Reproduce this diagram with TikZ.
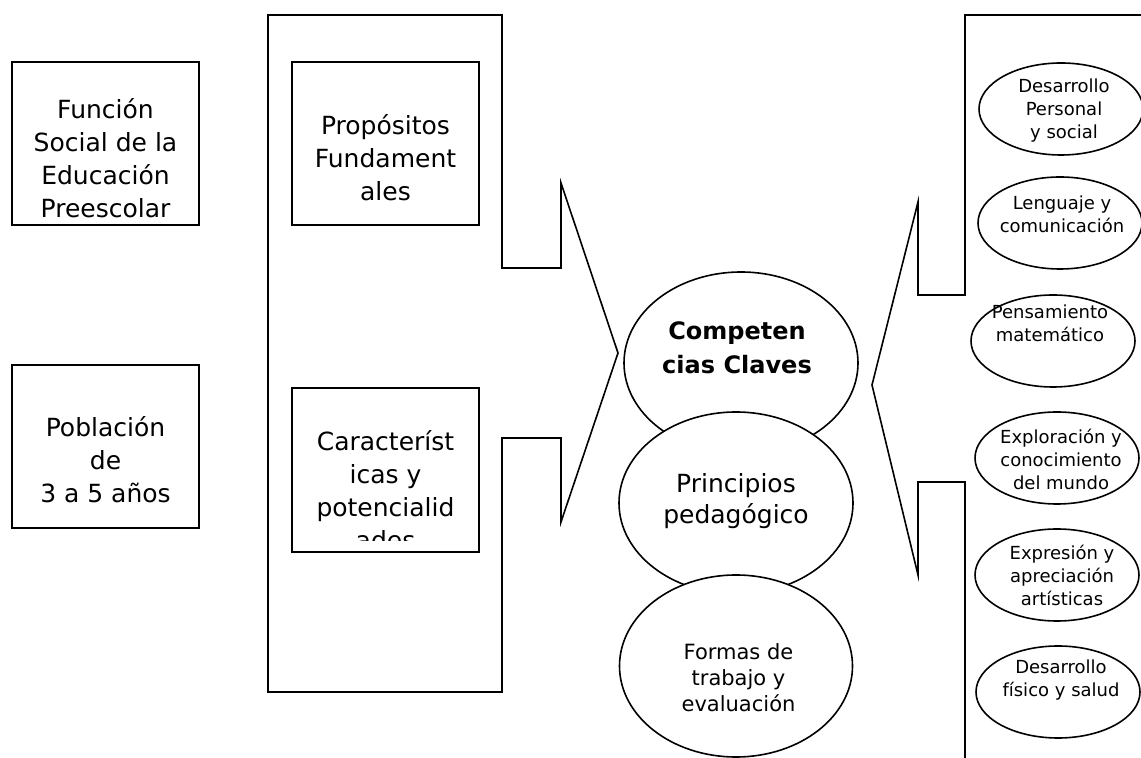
\documentclass[tikz,border=0pt]{standalone}
\usepackage{fontspec}
\setmainfont{DejaVu Sans}
\usetikzlibrary{shapes,positioning}

\begin{document}
\begin{tikzpicture}[x=0.5pt,y=-0.5pt]
      \tikzset{
	  box/.style={draw, line width=1pt, minimum width=93.5pt, minimum height=81.5pt, inner sep=0em},
	  bigtxt/.style={align=center, font=\fontsize{12.5}{16.5}\selectfont},
	  ball/.style={ellipse, draw, fill=white, line width=0.8pt, minimum width=117pt, minimum height=91pt, inner sep=0em},
	  area/.style={ellipse, draw, line width=0.8pt, minimum width=82pt, minimum height=46pt, inner sep=0em},
	  areatxt/.style={align=center, font=\fontsize{9}{11.5}\selectfont},
	  frame/.style={draw, line width=0.8pt, line join=miter}
      }

      \clip (0,0) rectangle (1141,758);

      %-----left column
      \node[box] (funcion) at (105.5,143.5) {};
      \node[bigtxt] (funciontxt) at (105.5,158) {Función\\Social de la\\Educación\\Preescolar};
      \node[box] (poblacion) at (105.5,446.5) {};
      \node[bigtxt] (poblaciontxt) at (105.5,460) {Población\\de\\3 a 5 años};

      %-----left bracket with its point
      \path[frame] (268,15) -- (502,15) -- (502,268) -- (561,268) -- (561,183)
	-- (618,353) coordinate (ltip) -- (561,522) -- (561,438) -- (502,438)
	-- (502,692) -- (268,692) -- cycle;

      \node[box] (propositos) at (385.5,143.5) {};
      \node[bigtxt] (propositostxt) at (385.5,158) {Propósitos\\Fundament\\ales};
      \node[box, minimum height=82pt] (caract) at (385.5,470) {};
      \begin{scope}
	\clip (292,388) rectangle (479,541);
	\node[bigtxt] (caracttxt) at (385.5,490) {Característ\\icas y\\potencialid\\ades};
      \end{scope}

      %-----centre
      \node[ball] (competencias) at (741,363) {};
      \node[align=center, font=\fontsize{12}{17}\selectfont\bfseries] (competenciastxt) at (737,348) {Competen\\cias Claves};
      \node[ball] (principios) at (736,503) {};
      \node[align=center, font=\fontsize{12.5}{15.5}\selectfont] (principiostxt) at (736,501) {Principios\\pedagógico};
      \node[ball, minimum width=116.5pt] (formas) at (736,666) {};
      \node[align=center, font=\fontsize{10.5}{13}\selectfont] (formastxt) at (738.5,678) {Formas de\\trabajo y\\evaluación};

      %-----right bracket
      \path[frame] (1160,15) -- (965,15) -- (965,295) -- (918,295) -- (918,202)
	-- (872,385) coordinate (rtip) -- (918,575) -- (918,482) -- (965,482) -- (965,780);

      %-----campos formativos
      \foreach \nm/\cx/\cy/\tx/\ty/\txt in {
	  a1/1061/109/1064/111/{Desarrollo\\Personal\\y social},
	  a2/1060/223/1062/214/{Lenguaje y\\comunicación},
	  a3/1053/341/1050/323/{Pensamiento\\matemático},
	  a4/1057/458/1061/459/{Exploración y\\conocimiento\\del mundo},
	  a5/1057/575/1062/575/{Expresión y\\apreciación\\artísticas},
	  a6/1058/692/1061/680/{Desarrollo\\físico y salud}}{
	\node[area] (\nm) at (\cx,\cy) {};
	\node[areatxt] (\nm txt) at (\tx,\ty) {\txt};
      }
\end{tikzpicture}
\end{document}
